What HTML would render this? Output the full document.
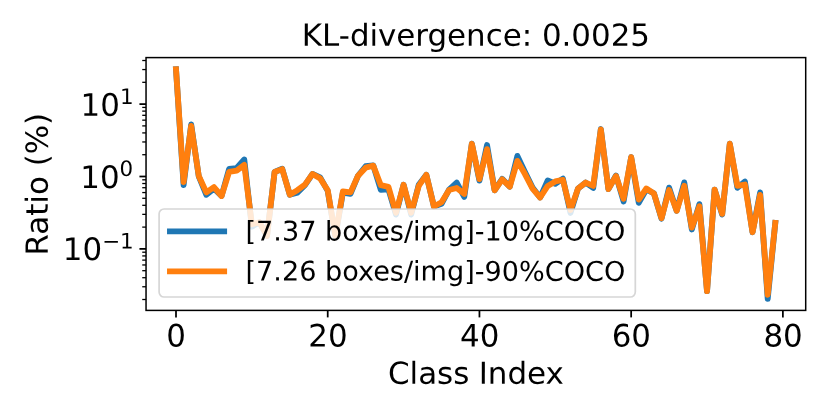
<!DOCTYPE html>
<html lang="en"><head><meta charset="utf-8"><title>KL-divergence: 0.0025</title>
<style>html,body{margin:0;padding:0;background:#fff;}body{width:831px;height:416px;overflow:hidden;font-family:"DejaVu Sans","Liberation Sans",sans-serif;}svg{display:block;}</style>
</head><body>
<svg width="831" height="416" viewBox="0 0 831 416" font-family="'DejaVu Sans', 'Liberation Sans', sans-serif" fill="#000">
<rect width="831" height="416" fill="#fff"/>
<defs><clipPath id="ax"><rect x="146.04" y="57.60" width="659.66" height="252.80"/></clipPath></defs>
<g clip-path="url(#ax)" fill="none" stroke-width="5.85" stroke-linejoin="round" stroke-linecap="square">
<path d="M176.00,69.28 L183.59,185.05 L191.17,124.49 L198.76,176.43 L206.34,194.78 L213.93,188.63 L221.52,196.01 L229.10,168.98 L236.69,168.03 L244.27,159.52 L251.86,226.69 L259.45,222.26 L267.03,235.95 L274.62,171.96 L282.20,168.73 L289.79,194.69 L297.38,192.59 L304.96,185.21 L312.55,173.93 L320.13,177.35 L327.72,190.88 L335.31,236.68 L342.89,192.53 L350.48,193.89 L358.06,175.72 L365.65,166.24 L373.24,165.37 L380.82,189.79 L388.41,189.27 L395.99,214.58 L403.58,184.74 L411.17,214.58 L418.75,184.72 L426.34,174.90 L433.92,206.51 L441.51,203.75 L449.10,189.58 L456.68,182.56 L464.27,196.92 L471.85,143.77 L479.44,180.54 L487.03,145.00 L494.61,190.33 L502.20,178.86 L509.78,186.63 L517.37,155.89 L524.96,172.03 L532.54,187.65 L540.13,197.52 L547.71,180.51 L555.30,183.75 L562.89,178.67 L570.47,212.98 L578.06,188.48 L585.64,182.58 L593.23,187.94 L600.82,129.05 L608.40,189.03 L615.99,175.52 L623.57,201.42 L631.16,157.21 L638.75,202.75 L646.33,189.50 L653.92,193.44 L661.50,218.64 L669.09,187.66 L676.68,210.81 L684.26,182.41 L691.85,229.43 L699.43,204.13 L707.02,291.19 L714.61,189.57 L722.19,214.54 L729.78,143.76 L737.36,187.82 L744.95,181.56 L752.54,232.20 L760.12,192.43 L767.71,298.91 L775.29,222.87" stroke="#1f77b4"/>
<path d="M176.00,69.28 L183.59,182.05 L191.17,125.99 L198.76,175.93 L206.34,192.38 L213.93,187.13 L221.52,196.01 L229.10,171.98 L236.69,170.63 L244.27,164.92 L251.86,224.19 L259.45,222.26 L267.03,235.95 L274.62,171.96 L282.20,169.13 L289.79,194.69 L297.38,190.19 L304.96,184.61 L312.55,173.93 L320.13,178.35 L327.72,190.28 L335.31,235.68 L342.89,191.53 L350.48,192.39 L358.06,175.72 L365.65,167.64 L373.24,165.67 L380.82,185.19 L388.41,186.87 L395.99,212.78 L403.58,184.74 L411.17,212.78 L418.75,185.92 L426.34,174.90 L433.92,206.51 L441.51,202.25 L449.10,189.98 L456.68,187.96 L464.27,193.92 L471.85,143.77 L479.44,179.04 L487.03,149.20 L494.61,190.33 L502.20,179.36 L509.78,186.63 L517.37,160.89 L524.96,174.03 L532.54,188.65 L540.13,197.52 L547.71,185.91 L555.30,181.45 L562.89,179.87 L570.47,209.98 L578.06,188.48 L585.64,182.58 L593.23,185.94 L600.82,129.35 L608.40,189.03 L615.99,176.02 L623.57,198.72 L631.16,157.21 L638.75,199.55 L646.33,188.50 L653.92,193.44 L661.50,218.14 L669.09,190.06 L676.68,210.81 L684.26,185.81 L691.85,227.63 L699.43,206.33 L707.02,291.19 L714.61,189.57 L722.19,213.84 L729.78,143.76 L737.36,185.82 L744.95,184.56 L752.54,232.20 L760.12,194.93 L767.71,294.71 L775.29,222.87" stroke="#ff7f0e"/>
</g>
<g stroke="#000" fill="none">
<line x1="176.00" x2="176.00" y1="310.40" y2="317.40" stroke-width="1.75"/>
<line x1="327.72" x2="327.72" y1="310.40" y2="317.40" stroke-width="1.75"/>
<line x1="479.44" x2="479.44" y1="310.40" y2="317.40" stroke-width="1.75"/>
<line x1="631.16" x2="631.16" y1="310.40" y2="317.40" stroke-width="1.75"/>
<line x1="782.88" x2="782.88" y1="310.40" y2="317.40" stroke-width="1.75"/>
<line x1="139.44" x2="146.04" y1="104.10" y2="104.10" stroke-width="1.75"/>
<line x1="139.44" x2="146.04" y1="176.50" y2="176.50" stroke-width="1.75"/>
<line x1="139.44" x2="146.04" y1="248.90" y2="248.90" stroke-width="1.75"/>
<line x1="142.24" x2="146.04" y1="299.51" y2="299.51" stroke-width="1.3"/>
<line x1="142.24" x2="146.04" y1="286.76" y2="286.76" stroke-width="1.3"/>
<line x1="142.24" x2="146.04" y1="277.71" y2="277.71" stroke-width="1.3"/>
<line x1="142.24" x2="146.04" y1="270.69" y2="270.69" stroke-width="1.3"/>
<line x1="142.24" x2="146.04" y1="264.96" y2="264.96" stroke-width="1.3"/>
<line x1="142.24" x2="146.04" y1="260.11" y2="260.11" stroke-width="1.3"/>
<line x1="142.24" x2="146.04" y1="255.92" y2="255.92" stroke-width="1.3"/>
<line x1="142.24" x2="146.04" y1="252.21" y2="252.21" stroke-width="1.3"/>
<line x1="142.24" x2="146.04" y1="227.11" y2="227.11" stroke-width="1.3"/>
<line x1="142.24" x2="146.04" y1="214.36" y2="214.36" stroke-width="1.3"/>
<line x1="142.24" x2="146.04" y1="205.31" y2="205.31" stroke-width="1.3"/>
<line x1="142.24" x2="146.04" y1="198.29" y2="198.29" stroke-width="1.3"/>
<line x1="142.24" x2="146.04" y1="192.56" y2="192.56" stroke-width="1.3"/>
<line x1="142.24" x2="146.04" y1="187.71" y2="187.71" stroke-width="1.3"/>
<line x1="142.24" x2="146.04" y1="183.52" y2="183.52" stroke-width="1.3"/>
<line x1="142.24" x2="146.04" y1="179.81" y2="179.81" stroke-width="1.3"/>
<line x1="142.24" x2="146.04" y1="154.71" y2="154.71" stroke-width="1.3"/>
<line x1="142.24" x2="146.04" y1="141.96" y2="141.96" stroke-width="1.3"/>
<line x1="142.24" x2="146.04" y1="132.91" y2="132.91" stroke-width="1.3"/>
<line x1="142.24" x2="146.04" y1="125.89" y2="125.89" stroke-width="1.3"/>
<line x1="142.24" x2="146.04" y1="120.16" y2="120.16" stroke-width="1.3"/>
<line x1="142.24" x2="146.04" y1="115.31" y2="115.31" stroke-width="1.3"/>
<line x1="142.24" x2="146.04" y1="111.12" y2="111.12" stroke-width="1.3"/>
<line x1="142.24" x2="146.04" y1="107.41" y2="107.41" stroke-width="1.3"/>
<line x1="142.24" x2="146.04" y1="82.31" y2="82.31" stroke-width="1.3"/>
<line x1="142.24" x2="146.04" y1="69.56" y2="69.56" stroke-width="1.3"/>
<line x1="142.24" x2="146.04" y1="60.51" y2="60.51" stroke-width="1.3"/>
</g>
<rect x="159.1" y="209.0" width="476.20" height="88.00" rx="5" ry="5" fill="#fff" fill-opacity="0.83" stroke="#ccc" stroke-opacity="0.8" stroke-width="1.7"/>
<g fill="none" stroke-width="5.85" stroke-linecap="square">
<line x1="169.95" x2="224.15" y1="231.3" y2="231.3" stroke="#1f77b4"/>
<line x1="169.95" x2="224.15" y1="271.3" y2="271.3" stroke="#ff7f0e"/>
</g>
<text transform="translate(245.50,240.40) rotate(0.03)" font-size="27.1px">[7.37 boxes/img]-10%COCO</text>
<text transform="translate(245.50,280.50) rotate(0.03)" font-size="27.1px">[7.26 boxes/img]-90%COCO</text>
<rect x="146.04" y="57.60" width="659.66" height="252.80" fill="none" stroke="#000" stroke-width="1.5"/>
<text transform="translate(475.90,45.75) rotate(0.03) scale(1,0.985)" font-size="30.9px" text-anchor="middle">KL-divergence: 0.0025</text>
<text word-spacing="-0.5" transform="translate(475.90,383.80) rotate(0.03) scale(1,0.975)" font-size="30.95px" text-anchor="middle">Class Index</text>
<text transform="translate(47.70,184.20) rotate(-90.03) scale(1,0.985)" font-size="30.95px" text-anchor="middle">Ratio (%)</text>
<text transform="translate(176.20,346.55) rotate(0.03)" font-size="30.9px" text-anchor="middle">0</text>
<text transform="translate(327.92,346.55) rotate(0.03)" font-size="30.9px" text-anchor="middle">20</text>
<text transform="translate(479.64,346.55) rotate(0.03)" font-size="30.9px" text-anchor="middle">40</text>
<text transform="translate(631.36,346.55) rotate(0.03)" font-size="30.9px" text-anchor="middle">60</text>
<text transform="translate(783.08,346.55) rotate(0.03)" font-size="30.9px" text-anchor="middle">80</text>
<text transform="translate(80.55,115.80) rotate(0.03)" font-size="30.9px">10</text>
<text transform="translate(119.97,104.00) rotate(0.03)" font-size="21.4px">1</text>
<text transform="translate(80.35,188.10) rotate(0.03)" font-size="30.9px">10</text>
<text transform="translate(119.42,176.00) rotate(0.03)" font-size="21.4px">0</text>
<text transform="translate(62.85,260.10) rotate(0.03)" font-size="30.9px">10</text>
<text transform="translate(102.17,248.55) rotate(0.03)" font-size="21.4px">−1</text>
</svg>
</body></html>
